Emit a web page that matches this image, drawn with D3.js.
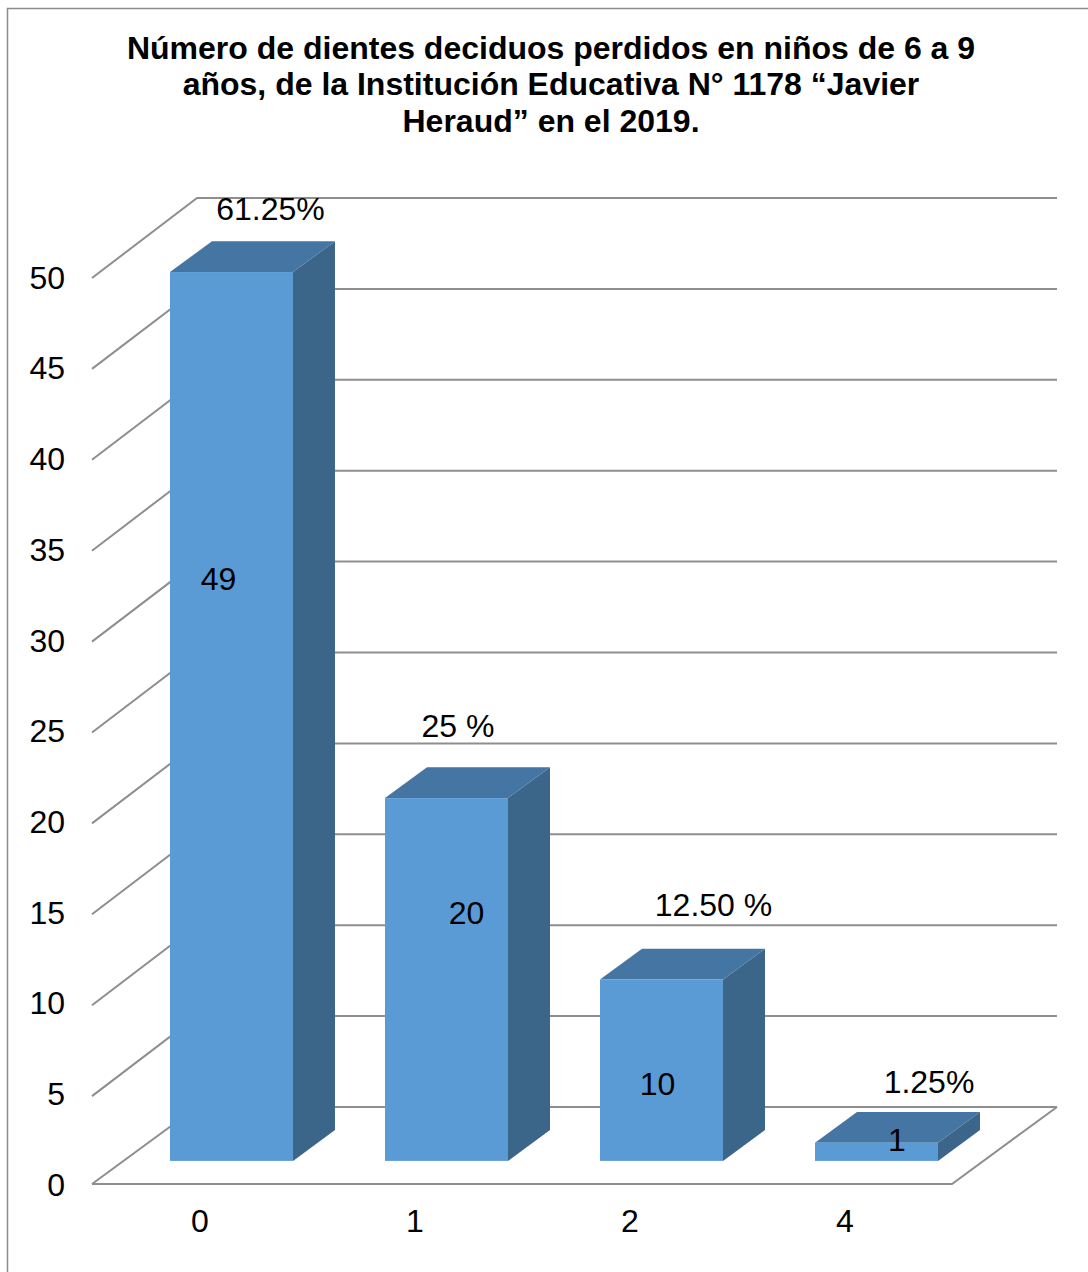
<!DOCTYPE html>
<html><head><meta charset="utf-8">
<script src="https://cdnjs.cloudflare.com/ajax/libs/d3/7.8.5/d3.min.js"></script>
<style>html,body{margin:0;padding:0;background:#fff}svg{display:block}text{font-family:"Liberation Sans",Arial,sans-serif;fill:#000}</style>
</head><body><svg id="c" width="1088" height="1272"></svg>
<script>
const categories = ["0","1","2","4"];
const values = [49,20,10,1];
const percentLabels = ["61.25%","25 %","12.50 %","1.25%"];
const yTicks = [0,5,10,15,20,25,30,35,40,45,50];
const titleLines = ["Número de dientes deciduos perdidos en niños de 6 a 9","años, de la Institución Educativa N° 1178 “Javier","Heraud” en el 2019."];

// manual label anchors of the original chart, as offset from the bar's front-top centre
const valueOffset = [[-13,307],[20,115],[-4,104],[20.5,-3]];
const pctOffset = [[39,-63],[11.5,-72],[52,-75],[52.5,-61]];

const W=1088,H=1272;
const svg=d3.select("#c");
const x=d3.scaleBand().domain(categories).range([92,952]);
const y=d3.scaleLinear().domain([0,50]).range([1184,277]);        // axis labels, floor and bars
const wallFront=d3.scaleLinear().domain([0,50]).range([1187,278]); // front ends of the side-wall lines
const wallBack=d3.scaleLinear().domain([0,50]).range([1107,198]);  // back wall
const depthX=105, depthY=-77;
const barFront=0.3, barBack=0.7;
const px=(xv,t)=>xv+t*depthX, py=(v,t)=>y(v)+t*depthY;
const grid="#8e8e8e";

svg.append("path").attr("d",`M7.5,${H}V8.5H${W}`).attr("fill","none").attr("stroke","#8c8c8c").attr("stroke-width",1.5);

svg.selectAll("text.title").data(titleLines).join("text").attr("class","title")
 .attr("x",551).attr("y",(d,i)=>59+i*36.4).attr("text-anchor","middle")
 .attr("font-size",32).attr("font-weight","bold").text(d=>d);

// walls
const g=svg.append("g").attr("fill","none").attr("stroke",grid).attr("stroke-width",2);
const [x0,x1]=x.range();
yTicks.forEach(v=>{
  const yf=v===0?y(0):wallFront(v);
  g.append("path").attr("d",d3.line()([[x0,yf],[px(x0,1),wallBack(v)],[px(x1,1),wallBack(v)]]));
});
// floor
g.append("path").attr("d",d3.line()([[x0,y(0)],[x1,y(0)],[px(x1,1),wallBack(0)]]));

// bars
const bw=123;
const bars=svg.selectAll("g.bar").data(values.map((v,i)=>({v,c:categories[i],i}))).join("g").attr("class","bar");
const xl=d=>x(d.c)+x.bandwidth()/2-bw/2+0.5+barFront*depthX;
const dt=barBack-barFront;
bars.append("polygon").attr("fill","#3b6589").attr("points",d=>{
  const a=xl(d)+bw,b=py(0,barFront),c=py(d.v,barFront);
  return [[a,b],[a,c],[a+dt*depthX,c+dt*depthY],[a+dt*depthX,b+dt*depthY]].join(" ");});
bars.append("polygon").attr("fill","#4575a2").attr("points",d=>{
  const a=xl(d),c=py(d.v,barFront);
  return [[a,c],[a+bw,c],[a+bw+dt*depthX,c+dt*depthY],[a+dt*depthX,c+dt*depthY]].join(" ");});
bars.append("rect").attr("fill","#5b9bd5").attr("x",xl).attr("width",bw)
  .attr("y",d=>py(d.v,barFront)).attr("height",d=>py(0,barFront)-py(d.v,barFront));

// axes
const ya=svg.append("g").attr("transform","translate(65,0)").call(d3.axisLeft(y).tickValues(yTicks).tickSize(0).tickPadding(0));
ya.select(".domain").remove();
ya.selectAll("text").attr("font-size",32).attr("dy","0.35em");
const xa=svg.append("g").attr("transform","translate(0.5,1221)").call(d3.axisBottom(x).tickSize(0).tickPadding(0));
xa.select(".domain").remove();
xa.selectAll("text").attr("font-size",32).attr("y",0).attr("dy","0.35em");
ya.attr("font-family",null);xa.attr("font-family",null);

// value and percentage labels
const cx=d=>xl(d)+bw/2;
bars.append("text").attr("text-anchor","middle").attr("font-size",32)
 .attr("x",d=>cx(d)+valueOffset[d.i][0]).attr("y",d=>py(d.v,barFront)+valueOffset[d.i][1]).attr("dy","0.35em").text(d=>d.v);
bars.append("text").attr("text-anchor","middle").attr("font-size",32)
 .attr("x",d=>cx(d)+pctOffset[d.i][0]).attr("y",d=>py(d.v,barFront)+pctOffset[d.i][1]).attr("dy","0.35em").text(d=>percentLabels[d.i]);
</script></body></html>
